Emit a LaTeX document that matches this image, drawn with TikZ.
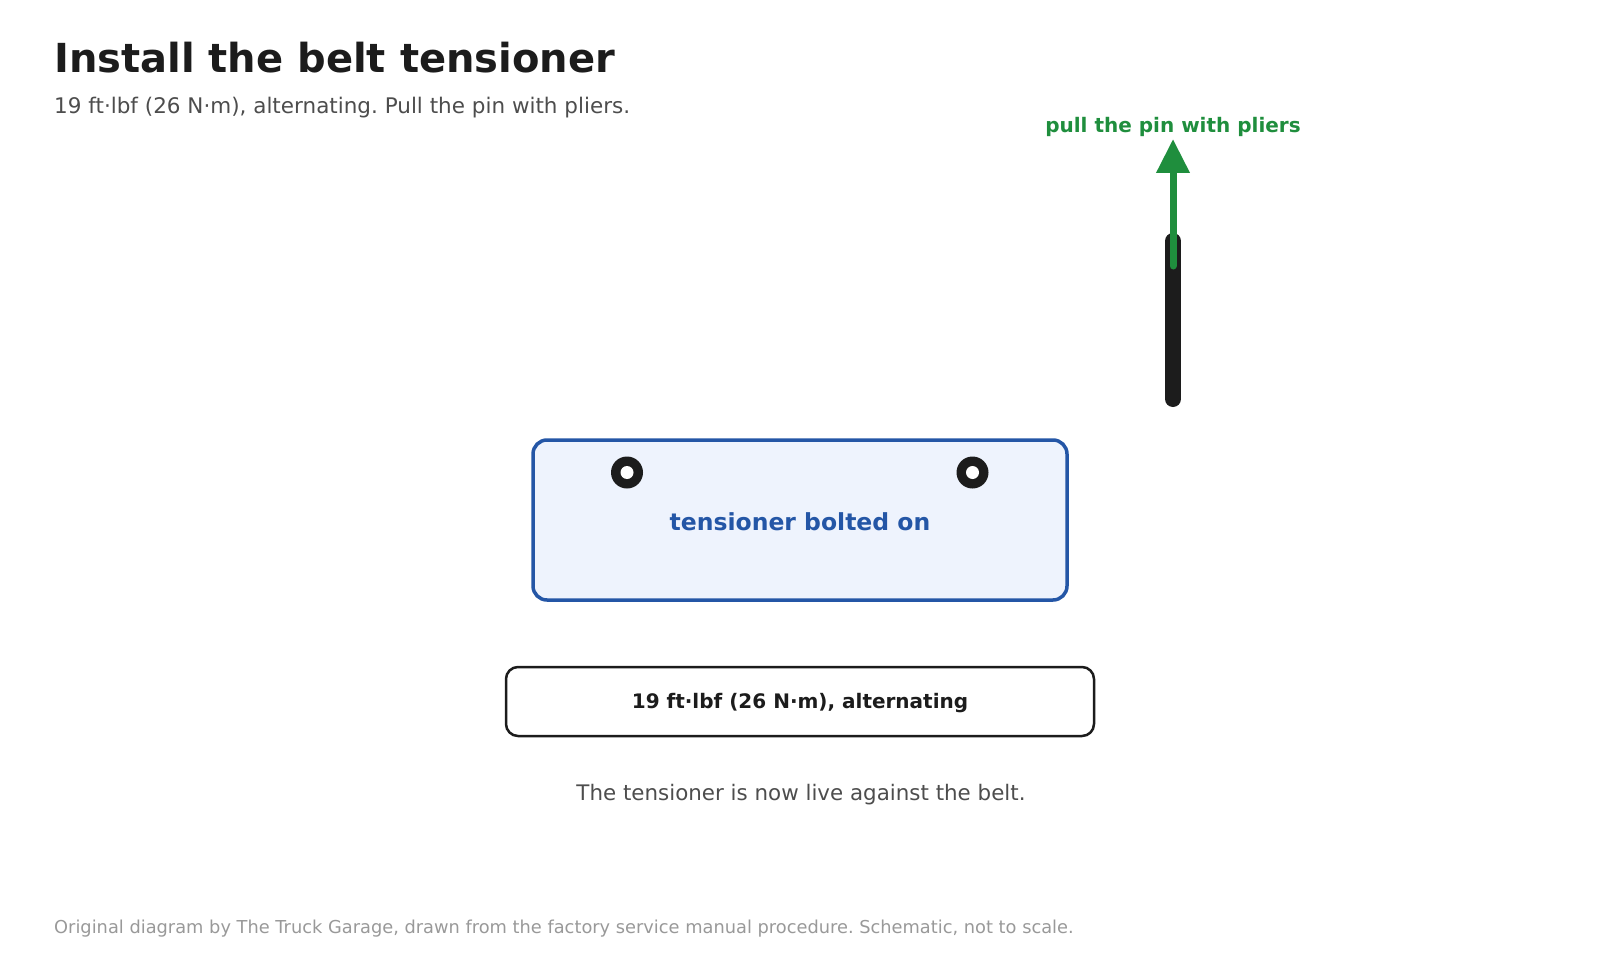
\documentclass[tikz,border=0pt]{standalone}
\usepackage{fontspec}
\setmainfont{DejaVu Sans}
\usetikzlibrary{arrows.meta}
\frenchspacing
\definecolor{inkc}{HTML}{1C1C1C}
\definecolor{subc}{HTML}{4D4D4D}
\definecolor{footc}{HTML}{999999}
\definecolor{greenc}{HTML}{1F8E3D}
\definecolor{bluec}{HTML}{2456A6}
\definecolor{bluefill}{HTML}{EEF3FD}
\tikzset{
  titletext/.style={anchor=base west, inner sep=0pt, text=inkc, font=\fontsize{40}{48}\selectfont\bfseries},
  subtext/.style={anchor=base west, inner sep=0pt, text=subc, font=\fontsize{21.5}{26}\selectfont},
  foottext/.style={anchor=base west, inner sep=0pt, text=footc, font=\fontsize{17.8}{22}\selectfont},
  greenlabel/.style={anchor=base, inner sep=0pt, text=greenc, font=\fontsize{20}{24}\selectfont\bfseries},
  partbox/.style={draw=bluec, line width=3.5pt, fill=bluefill, rounded corners=14pt},
  torquebox/.style={draw=inkc, line width=2.5pt, fill=white, rounded corners=12pt},
  bolt/.style={circle, fill=inkc, minimum size=32pt, inner sep=0pt},
  bolthole/.style={circle, fill=white, minimum size=13pt, inner sep=0pt},
  pinbar/.style={draw=inkc, line width=16pt, line cap=round},
  pullarrow/.style={draw=greenc, line width=7pt, line cap=round, -{Triangle[width=32pt,length=34pt,sharp]}},
}
\begin{document}
\begin{tikzpicture}[x=1pt,y=-1pt]
\useasboundingbox (0,0) rectangle (1600,960);
\node[titletext] (title) at (54,73) {Install the belt tensioner};
\node[subtext] (sub) at (54,114) {19 ft·lbf (26 N·m), alternating. Pull the pin with pliers.};
% pin and arrow
\coordinate (pintop) at (1173,241);
\coordinate (pinbot) at (1173,399);
\draw[pinbar] (pintop) -- (pinbot);
\coordinate (arrstart) at (1173,266);
\coordinate (arrend) at (1173,139);
\draw[pullarrow] (arrstart) -- (arrend);
\node[greenlabel] (pull) at (1173,133) {pull the pin with pliers};
% tensioner box
\node[partbox, minimum width=534pt, minimum height=160pt, inner sep=0pt] (tens) at (800,520) {};
\node[inner sep=0pt, anchor=base, text=bluec, font=\fontsize{23.5}{28}\selectfont\bfseries] (tenslbl) at (800,530) {tensioner bolted on};
\node[bolt] (b1) at (627,472.5) {};
\node[bolthole] (h1) at (b1.center) {};
\node[bolt] (b2) at (972.5,472.5) {};
\node[bolthole] (h2) at (b2.center) {};
% torque box
\node[torquebox, minimum width=588pt, minimum height=69pt, inner sep=0pt] (torq) at (800,701.5) {};
\node[inner sep=0pt, anchor=base, text=inkc, font=\fontsize{20}{24}\selectfont\bfseries] (torqlbl) at (800,708) {19 ft·lbf (26 N·m), alternating};
\node[inner sep=0pt, anchor=base, text=subc, font=\fontsize{21.4}{26}\selectfont] (note) at (801,800) {The tensioner is now live against the belt.};
\node[foottext] (foot) at (54,933) {Original diagram by The Truck Garage, drawn from the factory service manual procedure. Schematic, not to scale.};
\end{tikzpicture}
\end{document}
